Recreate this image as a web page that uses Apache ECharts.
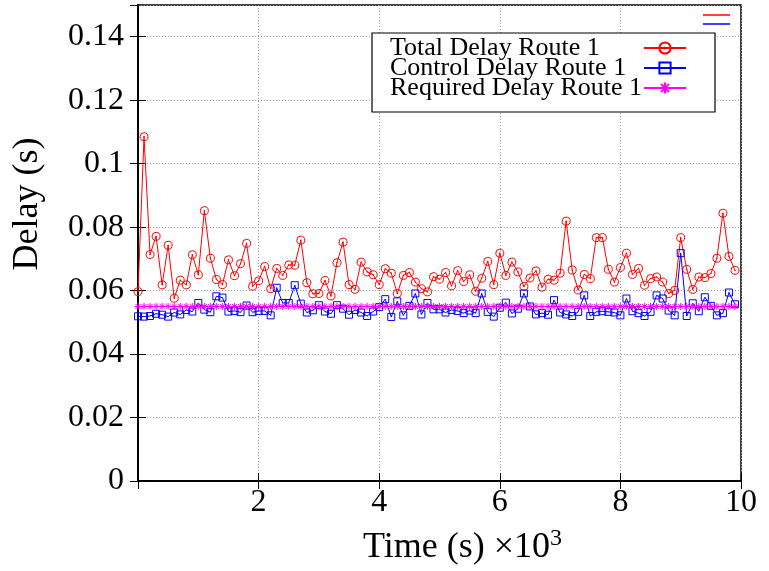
<!DOCTYPE html>
<html>
<head>
<meta charset="utf-8">
<script src="https://cdn.jsdelivr.net/npm/echarts@6/dist/echarts.min.js"></script>
<style>html,body{margin:0;padding:0;background:#fff}#c{width:769px;height:571px}</style>
</head>
<body>
<div id="c"></div>
<script>
// Time in units of 10^3 s
var times = [0.0,0.1,0.2,0.3,0.4,0.5,0.6,0.7,0.8,0.9,1.0,1.1,1.2,1.3,1.4,1.5,1.6,1.7,1.8,1.9,
2.0,2.1,2.2,2.3,2.4,2.5,2.6,2.7,2.8,2.9,3.0,3.1,3.2,3.3,3.4,3.5,3.6,3.7,3.8,3.9,
4.0,4.1,4.2,4.3,4.4,4.5,4.6,4.7,4.8,4.9,5.0,5.1,5.2,5.3,5.4,5.5,5.6,5.7,5.8,5.9,
6.0,6.1,6.2,6.3,6.4,6.5,6.6,6.7,6.8,6.9,7.0,7.1,7.2,7.3,7.4,7.5,7.6,7.7,7.8,7.9,
8.0,8.1,8.2,8.3,8.4,8.5,8.6,8.7,8.8,8.9,9.0,9.1,9.2,9.3,9.4,9.5,9.6,9.7,9.8,9.9];

var totalDelay = [0.0597,0.1085,0.0714,0.0771,0.0618,0.0743,0.0576,0.0633,0.0618,0.0713,
0.0650,0.0852,0.0702,0.0635,0.0619,0.0697,0.0647,0.0685,0.0749,0.0614,
0.0631,0.0676,0.0606,0.0670,0.0648,0.0681,0.0680,0.0759,0.0625,0.0590,
0.0591,0.0632,0.0583,0.0688,0.0753,0.0619,0.0604,0.0690,0.0659,0.0650,
0.0619,0.0669,0.0655,0.0591,0.0648,0.0657,0.0627,0.0606,0.0596,0.0644,
0.0636,0.0657,0.0615,0.0663,0.0629,0.0650,0.0598,0.0639,0.0692,0.0619,
0.0718,0.0648,0.0690,0.0659,0.0613,0.0640,0.0662,0.0611,0.0636,0.0633,
0.0655,0.0819,0.0665,0.0602,0.0651,0.0638,0.0767,0.0767,0.0667,0.0627,
0.0673,0.0718,0.0651,0.0670,0.0617,0.0638,0.0643,0.0627,0.0591,0.0601,
0.0767,0.0667,0.0604,0.0643,0.0641,0.0654,0.0702,0.0844,0.0708,0.0664];

var controlDelay = [0.0519,0.0518,0.0520,0.0527,0.0524,0.0518,0.0531,0.0525,0.0539,0.0534,
0.0561,0.0540,0.0532,0.0582,0.0578,0.0534,0.0536,0.0532,0.0553,0.0532,
0.0536,0.0536,0.0522,0.0609,0.0561,0.0561,0.0617,0.0559,0.0531,0.0538,
0.0554,0.0534,0.0527,0.0554,0.0543,0.0524,0.0539,0.0531,0.0520,0.0534,
0.0548,0.0573,0.0517,0.0566,0.0522,0.0552,0.0591,0.0525,0.0561,0.0541,
0.0541,0.0531,0.0539,0.0536,0.0529,0.0537,0.0529,0.0591,0.0533,0.0518,
0.0546,0.0562,0.0528,0.0543,0.0591,0.0550,0.0525,0.0529,0.0524,0.0570,
0.0531,0.0525,0.0520,0.0533,0.0585,0.0520,0.0533,0.0535,0.0533,0.0531,
0.0522,0.0575,0.0535,0.0529,0.0520,0.0533,0.0585,0.0575,0.0537,0.0522,
0.0718,0.0520,0.0560,0.0535,0.0579,0.0552,0.0522,0.0529,0.0594,0.0557];

var requiredDelay = [0.055,0.055,0.055,0.055,0.055,0.055,0.055,0.055,0.055,0.055,
0.055,0.055,0.055,0.055,0.055,0.055,0.055,0.055,0.055,0.055,
0.055,0.055,0.055,0.055,0.055,0.055,0.055,0.055,0.055,0.055,
0.055,0.055,0.055,0.055,0.055,0.055,0.055,0.055,0.055,0.055,
0.055,0.055,0.055,0.055,0.055,0.055,0.055,0.055,0.055,0.055,
0.055,0.055,0.055,0.055,0.055,0.055,0.055,0.055,0.055,0.055,
0.055,0.055,0.055,0.055,0.055,0.055,0.055,0.055,0.055,0.055,
0.055,0.055,0.055,0.055,0.055,0.055,0.055,0.055,0.055,0.055,
0.055,0.055,0.055,0.055,0.055,0.055,0.055,0.055,0.055,0.055,
0.055,0.055,0.055,0.055,0.055,0.055,0.055,0.055,0.055,0.055];

var seriesNames = ['Total Delay Route 1', 'Control Delay Route 1', 'Required Delay Route 1'];

function pairs(ys) { return times.map(function (t, i) { return [t, ys[i]]; }); }

var FONT = 'Liberation Serif';
var circlePath = 'path://M10,1A9,9,0,1,1,9.99,1ZM10,9.2A0.8,0.8,0,1,1,9.99,9.2Z';
var squarePath = 'path://M1,1L19,1L19,19L1,19ZM10,9.4L10,10.6';
var starPath = 'path://M10,0L10,20M0,10L20,10M3,3L17,17M3,17L17,3';

var chart = echarts.init(document.getElementById('c'), null, {renderer: 'canvas'});
var gridLine = {show: true, lineStyle: {color: '#9a9a9a', width: 1, type: [1, 2]}};
var axisLineBlack = {show: true, lineStyle: {color: '#000', width: 1.5}};
var tickIn = {show: true, inside: true, length: 8, lineStyle: {color: '#000', width: 1}};

chart.setOption({
  backgroundColor: '#fff',
  animation: false,
  grid: {left: 138, right: 28, top: 5, bottom: 88, show: true, borderColor: '#000', borderWidth: 1.5, containLabel: false},
  legend: {
    left: 372, top: 33, orient: 'vertical', align: 'right',
    backgroundColor: '#fff', borderColor: '#000', borderWidth: 1.2, borderRadius: 0,
    padding: [2, 28, 11, 18], itemGap: -6, itemWidth: 42, itemHeight: 14,
    formatter: function (n) { return '{t|' + n + '}'; },
    textStyle: {fontFamily: FONT, fontSize: 26, color: '#000',
      rich: {t: {fontFamily: FONT, fontSize: 26, color: '#000', lineHeight: 20, width: 249, align: 'left'}}},
    data: seriesNames
  },
  xAxis: [{
    type: 'value', min: 0, max: 10, interval: 2,
    name: 'Time (s) ×10{sup|3}', nameLocation: 'middle', nameGap: 46,
    nameTextStyle: {fontFamily: FONT, fontSize: 36, color: '#000', padding: [0, 0, 0, 46],
      rich: {sup: {fontFamily: FONT, fontSize: 24, color: '#000', padding: [0, 0, 18, 0]}}},
    axisLine: axisLineBlack, axisTick: tickIn,
    axisLabel: {fontFamily: FONT, fontSize: 32, color: '#000', margin: 6, showMinLabel: false},
    splitLine: gridLine
  }, {
    type: 'value', min: 0, max: 10, interval: 2, position: 'top',
    axisLine: axisLineBlack, axisTick: tickIn, axisLabel: {show: false}, splitLine: {show: false}
  }],
  yAxis: [{
    type: 'value', min: 0, max: 0.15, interval: 0.02,
    name: 'Delay (s)', nameLocation: 'middle', nameGap: 92,
    nameTextStyle: {fontFamily: FONT, fontSize: 36, color: '#000', padding: [0, 0, 0, 78]},
    axisLine: axisLineBlack, axisTick: tickIn,
    axisLabel: {fontFamily: FONT, fontSize: 32, color: '#000', margin: 14, showMaxLabel: false},
    splitLine: gridLine
  }, {
    type: 'value', min: 0, max: 0.15, interval: 0.02, position: 'right',
    axisLine: axisLineBlack, axisTick: tickIn, axisLabel: {show: false}, splitLine: {show: false}
  }],
  graphic: [
    {type: 'line', shape: {x1: 703, y1: 15, x2: 730, y2: 15}, style: {stroke: '#ff0000', lineWidth: 1.5}},
    {type: 'line', shape: {x1: 703, y1: 24, x2: 730, y2: 24}, style: {stroke: '#0000ff', lineWidth: 1.5}}
  ],
  series: [{
    name: seriesNames[0], type: 'line', data: pairs(totalDelay),
    symbol: circlePath, symbolSize: 8, showAllSymbol: true, symbolKeepAspect: true,
    lineStyle: {color: '#ff0000', width: 1},
    itemStyle: {color: 'transparent', borderColor: '#ff0000', borderWidth: 1}
  }, {
    name: seriesNames[1], type: 'line', data: pairs(controlDelay),
    symbol: squarePath, symbolSize: 7, showAllSymbol: true, symbolKeepAspect: true,
    lineStyle: {color: '#0000ff', width: 1},
    itemStyle: {color: 'transparent', borderColor: '#0000ff', borderWidth: 1}
  }, {
    name: seriesNames[2], type: 'line', data: pairs(requiredDelay),
    symbol: starPath, symbolSize: 7, showAllSymbol: true, symbolKeepAspect: true,
    lineStyle: {color: '#ff00ff', width: 1},
    itemStyle: {color: 'transparent', borderColor: '#ff00ff', borderWidth: 1}
  }]
});
</script>
</body>
</html>
